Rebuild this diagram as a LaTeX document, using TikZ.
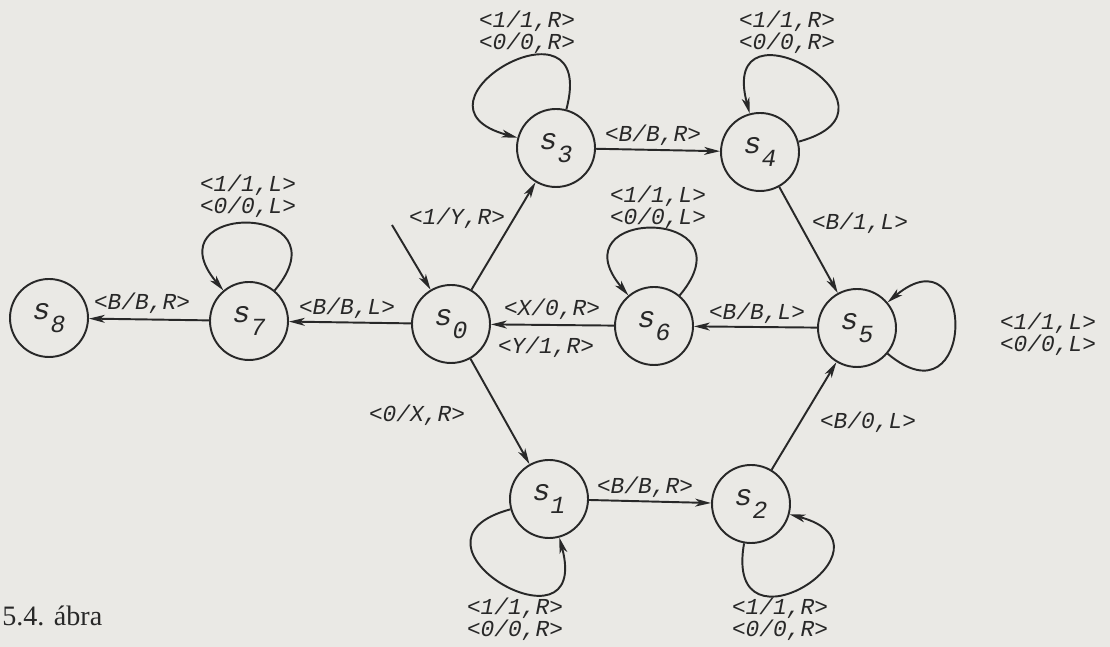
\documentclass[tikz,border=0pt]{standalone}
\usepackage{fontspec}
\setmainfont{Liberation Serif}
\newfontfamily\lblfont{Liberation Mono}
\usetikzlibrary{arrows.meta}
\definecolor{paper}{RGB}{234,233,229}
\definecolor{ink}{RGB}{40,40,40}
\newcommand\st[1]{{\fontsize{17}{17}\selectfont\textit{s}}\raisebox{-7pt}{\textit{#1}}}

\begin{document}
\begin{tikzpicture}[
  >={Stealth[length=9pt,width=4.5pt,inset=2.5pt]},
  state/.style={draw=ink,circle,line width=1.1pt,minimum size=1.56cm,inner sep=0pt,text=ink,font=\lblfont\fontsize{14}{14}\selectfont},
  link/.style={->,draw=ink,line width=1.1pt},
  selfloop/.style={link,looseness=5.8},
  trans/.style={text=ink,align=center,inner sep=0pt,font=\lblfont\fontsize{13}{12.5}\selectfont\itshape}
]
  \fill[paper] (0,0) rectangle (22.2,12.94);
  \useasboundingbox (0,0) rectangle (22.2,12.94);

  \node[state] (s8) at (0.98,6.58) {\st{8}};
  \node[state] (s7) at (4.98,6.52) {\st{7}};
  \node[state] (s0) at (9.02,6.46) {\st{0}};
  \node[state] (s6) at (13.08,6.42) {\st{6}};
  \node[state] (s5) at (17.14,6.38) {\st{5}};
  \node[state] (s3) at (11.12,9.98) {\st{3}};
  \node[state] (s4) at (15.20,9.90) {\st{4}};
  \node[state] (s1) at (10.98,2.96) {\st{1}};
  \node[state] (s2) at (15.02,2.86) {\st{2}};
  \coordinate (start) at (7.84,8.44);

  \draw[link] (start) -- (s0);
  \draw[link] (s0) -- (s3);
  \draw[link] (s0) -- (s1);
  \draw[link] (s0) -- (s7);
  \draw[link] (s7) -- (s8);
  \draw[link] (s3) -- (s4);
  \draw[link] (s4) -- (s5);
  \draw[link] (s5) -- (s6);
  \draw[link] (s6) -- (s0);
  \draw[link] (s1) -- (s2);
  \draw[link] (s2) -- (s5);

  \foreach \s/\a/\b in {s7/50/130, s6/50/130, s3/75/165, s4/15/105, s5/320/40, s1/195/285, s2/260/345}
    \draw[selfloop] (\s.\a) to[out=\a,in=\b] (\s.\b);

  \node[trans] (l3) at (10.54,12.29) {<1/1,R>\\<0/0,R>};
  \node[trans] (l4) at (15.74,12.29) {<1/1,R>\\<0/0,R>};
  \node[trans] (l34) at (13.06,10.24) {<B/B,R>};
  \node[trans] (l6) at (13.16,8.80) {<1/1,L>\\<0/0,L>};
  \node[trans] (l03) at (9.14,8.58) {<1/Y,R>};
  \node[trans] (l45) at (17.20,8.48) {<B/1,L>};
  \node[trans] (l7) at (4.96,9.02) {<1/1,L>\\<0/0,L>};
  \node[trans] (l78) at (2.84,6.88) {<B/B,R>};
  \node[trans] (l07) at (6.94,6.78) {<B/B,L>};
  \node[trans] (l60a) at (11.04,6.76) {<X/0,R>};
  \node[trans] (l60b) at (10.92,6.00) {<Y/1,R>};
  \node[trans] (l56) at (15.14,6.68) {<B/B,L>};
  \node[trans] (l5) at (20.96,6.26) {<1/1,L>\\<0/0,L>};
  \node[trans] (l01) at (8.34,4.64) {<0/X,R>};
  \node[trans] (l12) at (12.90,3.20) {<B/B,R>};
  \node[trans] (l25) at (17.36,4.50) {<B/0,L>};
  \node[trans] (l1) at (10.30,0.56) {<1/1,R>\\<0/0,R>};
  \node[trans] (l2) at (15.60,0.56) {<1/1,R>\\<0/0,R>};

  \node[anchor=west,inner sep=0pt,text=ink,font=\fontsize{16}{18}\selectfont] (cap) at (0.04,0.62) {5.4. ábra};
\end{tikzpicture}
\end{document}
